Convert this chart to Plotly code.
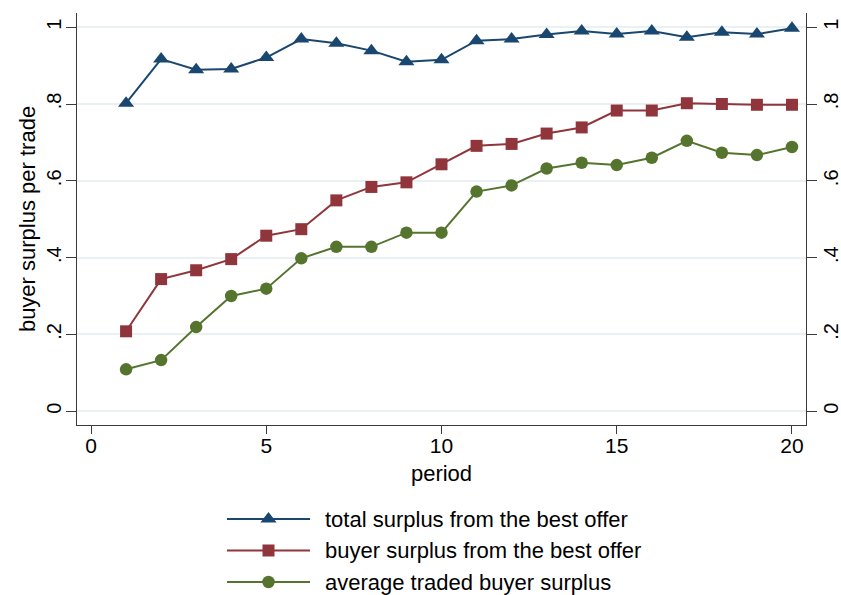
import plotly.graph_objects as go

# Session periods
period = list(range(1, 21))

# Mean per-trade surplus by period
total_surplus_best = [0.802, 0.917, 0.889, 0.891, 0.921, 0.969, 0.958, 0.939, 0.910, 0.915,
                      0.965, 0.969, 0.981, 0.990, 0.982, 0.990, 0.974, 0.987, 0.982, 0.997]
buyer_surplus_best = [0.208, 0.344, 0.367, 0.396, 0.457, 0.474, 0.549, 0.584, 0.596, 0.643,
                      0.691, 0.696, 0.723, 0.739, 0.783, 0.783, 0.802, 0.800, 0.798, 0.798]
avg_traded_buyer = [0.109, 0.133, 0.219, 0.300, 0.319, 0.398, 0.428, 0.428, 0.465, 0.465,
                    0.572, 0.588, 0.632, 0.647, 0.641, 0.660, 0.704, 0.673, 0.667, 0.688]

series_names = ["total surplus from the best offer",
                "buyer surplus from the best offer",
                "average traded buyer surplus"]

x_ticks = [0, 5, 10, 15, 20]
y_ticks = [0, 0.2, 0.4, 0.6, 0.8, 1.0]
y_tick_labels = ["0", ".2", ".4", ".6", ".8", "1"]

FONT = "Liberation Sans, Arial, Helvetica, sans-serif"
NAVY, MAROON, GREEN = "#1a476f", "#90353b", "#55752f"
AXIS_COL = "#3a3a3a"
GRID_COL = "#eaf1f3"

styles = [
    dict(color=NAVY, symbol="triangle-up", size=14),
    dict(color=MAROON, symbol="square", size=12),
    dict(color=GREEN, symbol="circle", size=12.5),
]
values = [total_surplus_best, buyer_surplus_best, avg_traded_buyer]

fig = go.Figure()

for name, vals, st in zip(series_names, values, styles):
    fig.add_trace(go.Scatter(
        x=period, y=vals, name=name, mode="lines+markers",
        line=dict(color=st["color"], width=2),
        marker=dict(color=st["color"], symbol=st["symbol"], size=st["size"],
                    line=dict(width=0)),
        showlegend=False, xaxis="x", yaxis="y",
    ))

# Invisible trace so the mirrored right-hand axis is drawn
fig.add_trace(go.Scatter(x=[period[0]], y=[values[0][0]], xaxis="x", yaxis="y2",
                         mode="markers", marker=dict(opacity=0), showlegend=False,
                         hoverinfo="skip"))

# Legend keys: long line with a centred marker, drawn on a small helper axis
key_rows = [2, 1, 0]
for name, st, row in zip(series_names, styles, key_rows):
    fig.add_trace(go.Scatter(
        x=[0, 1], y=[row, row], mode="lines",
        line=dict(color=st["color"], width=2),
        xaxis="x2", yaxis="y3", showlegend=False, hoverinfo="skip",
    ))
    fig.add_trace(go.Scatter(
        x=[0.5], y=[row], mode="markers",
        marker=dict(color=st["color"], symbol=st["symbol"], size=st["size"],
                    line=dict(width=0), opacity=1),
        xaxis="x2", yaxis="y3", showlegend=False, hoverinfo="skip",
    ))
    fig.add_annotation(x=0.3841, xref="paper", y=row, yref="y3", text=name,
                       showarrow=False, xanchor="left", yanchor="middle",
                       font=dict(family=FONT, size=22, color="#000000"))

W, H = 841, 595
x_dom = [77 / W, 806 / W]
y_dom = [(H - 425) / H, (H - 13) / H]

yaxis_common = dict(
    range=[-0.036, 1.037], tickvals=y_ticks, ticktext=y_tick_labels,
    tickangle=-90, ticks="outside", ticklen=10, tickwidth=1.3, tickcolor=AXIS_COL,
    showline=True, linecolor=AXIS_COL, linewidth=1.3, zeroline=False,
    tickfont=dict(family=FONT, size=20, color="#000000"),
    ticklabelstandoff=-3,
    domain=y_dom,
)

fig.update_layout(
    width=W, height=H,
    margin=dict(l=0, r=0, t=0, b=0),
    paper_bgcolor="white", plot_bgcolor="white",
    template="none",
    font=dict(family=FONT, size=22, color="#000000"),
    xaxis=dict(
        domain=x_dom, range=[-0.4, 20.4], tickvals=x_ticks,
        ticks="outside", ticklen=8, tickwidth=1.3, tickcolor=AXIS_COL,
        showline=True, linecolor=AXIS_COL, linewidth=1.3, showgrid=False, zeroline=False,
        tickfont=dict(family=FONT, size=21, color="#000000"),
        ticklabelstandoff=-6,
        title=dict(text="period", font=dict(family=FONT, size=22, color="#000000"), standoff=9),
        anchor="y",
    ),
    yaxis=dict(
        **yaxis_common, side="left", showgrid=True, gridcolor=GRID_COL, gridwidth=1.5,
        title=dict(text="buyer surplus per trade", font=dict(family=FONT, size=22, color="#000000"),
                   standoff=1),
        anchor="x",
    ),
    yaxis2=dict(**yaxis_common, side="right", overlaying="y", showgrid=False, anchor="x"),
    xaxis2=dict(domain=[227 / W, 310 / W], range=[0, 1], visible=False, anchor="y3"),
    yaxis3=dict(domain=[0, 0.2], range=[-0.4127, 3.365], visible=False, anchor="x2"),
    showlegend=False,
)

fig.write_html("out.html")
